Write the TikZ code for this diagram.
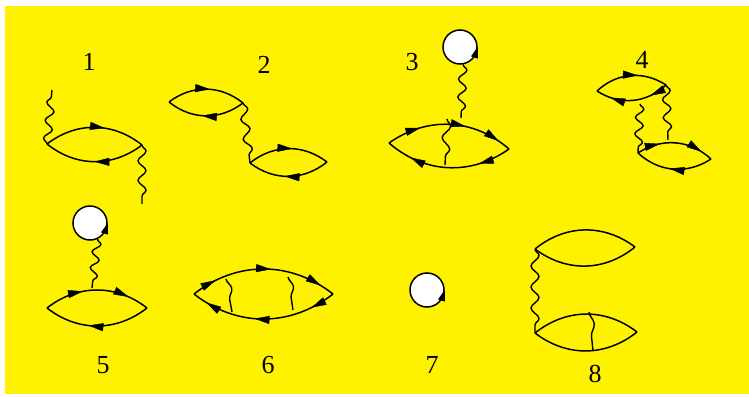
\documentclass[tikz,border=0pt]{standalone}
\usepackage{fontspec}
\setmainfont{Liberation Serif}
\usepackage{tikz}
\usetikzlibrary{arrows.meta,decorations.pathmorphing,decorations.markings}
\begin{document}
\begin{tikzpicture}[
  x=1pt, y=-1pt,
  num/.style={inner sep=0pt, font=\fontsize{26}{26}\selectfont},
  fline/.style={line width=1.5pt, draw=black},
  tip/.style={postaction={decorate, decoration={markings,
    mark=at position #1 with {\arrow[line width=0.4pt]{Triangle[length=15pt,width=8pt]}}}}},
  photon/.style={line width=1.4pt, decorate,
    decoration={snake, segment length=#1, amplitude=4pt}},
  photon/.default=18pt,
  loopc/.style={circle, draw=black, fill=white, line width=1.5pt, inner sep=0pt, minimum size=34pt},
  looptip/.style={-{Triangle[length=11pt,width=7pt]}, line width=1pt},
  lens/.style={bend left=38},
]
\fill[white] (0,0) rectangle (749,396);
\fill[yellow] (5,6) rectangle (749,394);
\useasboundingbox (0,0) rectangle (749,396);

\node[num] (n1) at (89,62) {1};
\node[num] (n2) at (264,65) {2};
\node[num] (n3) at (412,62) {3};
\node[num] (n4) at (642,60) {4};
\node[num] (n5) at (103,365) {5};
\node[num] (n6) at (268,365) {6};
\node[num] (n7) at (432,365) {7};
\node[num] (n8) at (595,374) {8};

\coordinate (a1) at (47,144);
\coordinate (b1) at (142,145);
\coordinate (f1) at (52,90);
\coordinate (g1) at (142,204);
\draw[fline, tip=0.6] (a1) to[lens] (b1);
\draw[fline, tip=0.5] (b1) to[lens] (a1);
\draw[photon] (a1) -- (f1);
\draw[photon=19.5pt] (b1) -- (g1);

\coordinate (a2) at (169,102);
\coordinate (b2) at (243,103);
\coordinate (c2) at (250,163);
\coordinate (d2) at (327,162);
\draw[fline, tip=0.55] (a2) to[lens] (b2);
\draw[fline, tip=0.55] (b2) to[lens] (a2);
\draw[fline, tip=0.55] (c2) to[lens] (d2);
\draw[fline, tip=0.55] (d2) to[lens] (c2);
\draw[photon=20pt] (b2) -- (c2);

\coordinate (a3) at (389,143);
\coordinate (b3) at (509,149);
\coordinate (t3) at (461,118);
\coordinate (u3) at (447,119);
\coordinate (v3) at (445,165);
\node[loopc] (c3) at (460,47) {};
\draw[looptip] (c3.-35) -- (c3.east);
\draw[fline, tip=0.27, tip=0.62, tip=0.9] (a3) to[lens] (b3);
\draw[fline, tip=0.26, tip=0.8] (b3) to[lens] (a3);
\draw[photon] (c3.-80) -- (t3);
\draw[photon=23pt] (u3) -- (v3);

\coordinate (a4) at (597,91);
\coordinate (b4) at (666,85);
\coordinate (c4) at (638,153);
\coordinate (d4) at (711,159);
\coordinate (u4) at (640,104);
\coordinate (v4) at (668,140);
\draw[fline, tip=0.6] (a4) to[lens] (b4);
\draw[fline, tip=0.25, tip=0.8] (b4) to[lens] (a4);
\draw[fline, tip=0.3, tip=0.85] (c4) to[lens] (d4);
\draw[fline, tip=0.55] (d4) to[lens] (c4);
\draw[photon] (b4) -- (v4);
\draw[photon=16.5pt] (u4) -- (c4);

\coordinate (a5) at (47,308);
\coordinate (b5) at (147,308);
\coordinate (t5) at (92,288);
\node[loopc] (c5) at (90,223) {};
\draw[looptip] (c5.-35) -- (c5.east);
\draw[fline, tip=0.37, tip=0.8] (a5) to[lens] (b5);
\draw[fline, tip=0.58] (b5) to[lens] (a5);
\draw[photon=16pt] (c5.-65) -- (t5);

\coordinate (a6) at (194,294);
\coordinate (b6) at (333,294);
\coordinate (u6) at (226,279);
\coordinate (v6) at (232,312);
\coordinate (w6) at (288,277);
\coordinate (x6) at (293,310);
\draw[fline, tip=0.17, tip=0.55, tip=0.9] (a6) to[lens] (b6);
\draw[fline, tip=0.17, tip=0.56, tip=0.9] (b6) to[lens] (a6);
\draw[photon=33pt] (u6) -- (v6);
\draw[photon=33pt] (w6) -- (x6);

\node[loopc] (c7) at (427,290) {};
\draw[looptip] (c7.-35) -- (c7.east);

\coordinate (a8) at (535,249);
\coordinate (b8) at (635,247);
\coordinate (c8) at (535,333);
\coordinate (d8) at (637,332);
\coordinate (u8) at (589,312);
\coordinate (v8) at (593,351);
\draw[fline] (a8) to[lens] (b8);
\draw[fline] (b8) to[lens] (a8);
\draw[fline] (c8) to[lens] (d8);
\draw[fline] (d8) to[lens] (c8);
\draw[photon=21pt] (a8) -- (c8);
\draw[photon=39pt] (u8) -- (v8);
\end{tikzpicture}
\end{document}
